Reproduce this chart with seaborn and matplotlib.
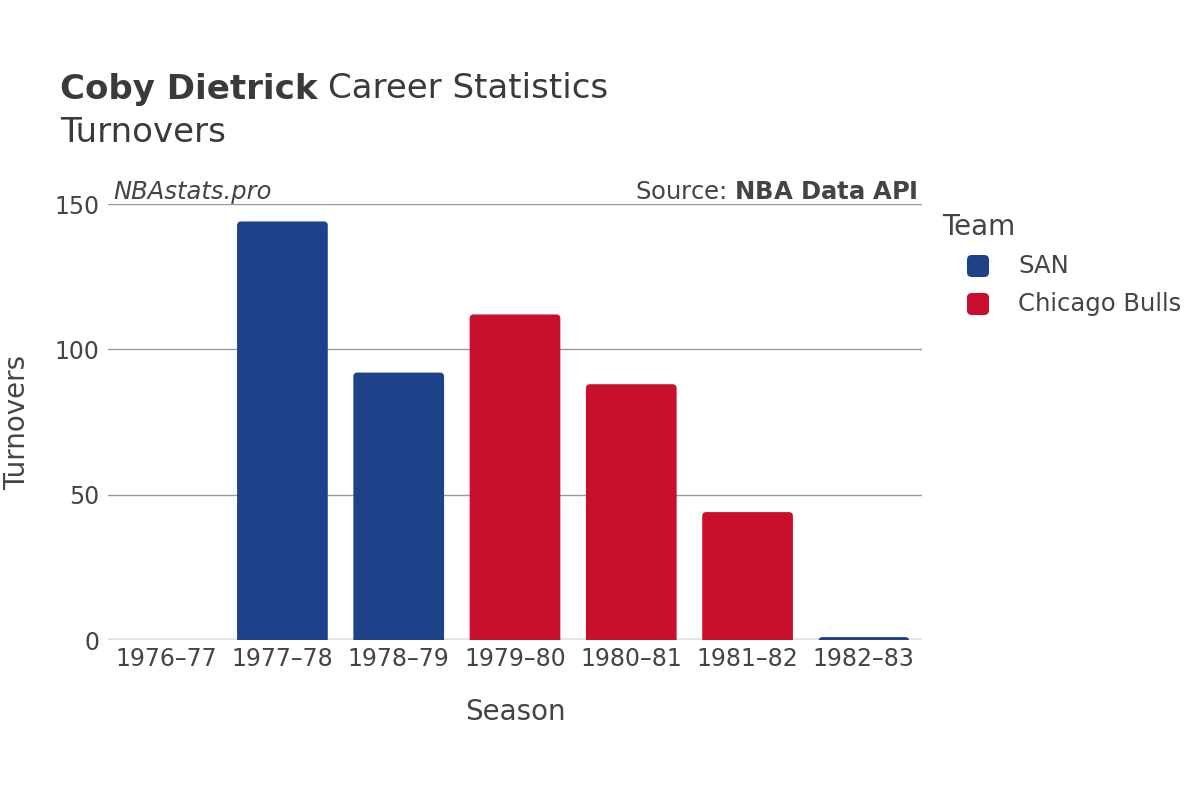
import matplotlib
matplotlib.use("Agg")
import matplotlib.pyplot as plt
import seaborn as sns
import pandas as pd
from matplotlib.patches import FancyBboxPatch

seasons = ["1976–77", "1977–78", "1978–79", "1979–80", "1980–81", "1981–82", "1982–83"]
teams = ["SAN", "SAN", "SAN", "Chicago Bulls", "Chicago Bulls", "Chicago Bulls", "SAN"]
turnovers = [0, 144, 92, 112, 88, 44, 1]
team_names = ["SAN", "Chicago Bulls"]
team_colors = {"SAN": "#1D428A", "Chicago Bulls": "#C8102E"}

df = pd.DataFrame({"Season": seasons, "Team": teams, "Turnovers": turnovers})

sns.set_theme(style="white")
plt.rcParams['font.family'] = ['DejaVu Sans']

TXT = "#3a3a3a"
fig = plt.figure(figsize=(12, 8), dpi=100)
ax = fig.add_axes([108/1200, 1-640/800, (922-108)/1200, (640-204)/800])

sns.barplot(data=df, x="Season", y="Turnovers", hue="Team", palette=team_colors,
            dodge=False, width=0.78, ax=ax, legend=False, order=seasons,
            hue_order=team_names, saturation=1)

ax.set_ylim(0, 150)
ax.set_xlim(-0.5, len(seasons) - 0.5)

# replace rectangles with rounded ones
px_x = (922 - 108) / len(seasons)
px_y = (640 - 204) / 150
aspect = px_x / px_y
for p in list(ax.patches):
    h = p.get_height()
    x, w = p.get_x(), p.get_width()
    fc = p.get_facecolor()
    p.remove()
    if h <= 0:
        continue
    fb = FancyBboxPatch((x, -3), w, h + 3,
                        boxstyle=f"round,pad=0,rounding_size={4/px_x}",
                        mutation_aspect=aspect, facecolor=fc, edgecolor="none",
                        clip_on=True, zorder=2)
    ax.add_patch(fb)

for v in [50, 100, 150]:
    ax.axhline(v, color="#9a9a9a", lw=1, zorder=1)
ax.axhline(0, color="#e4e4e8", lw=3.5, zorder=1.5)

for s in ax.spines.values():
    s.set_visible(False)

ax.set_yticks([0, 50, 100, 150])
ax.tick_params(axis="both", length=0, labelsize=17, labelcolor="#444444")
ax.tick_params(axis="x", pad=5)
ax.tick_params(axis="y", pad=6)
ax.set_xlabel("Season", fontsize=20, color="#444444")
ax.set_ylabel("Turnovers", fontsize=20, color="#444444")
ax.xaxis.set_label_coords(0.5, -(712 - 640) / 436)
ax.yaxis.set_label_coords(-(108 - 17) / 814, 0.5)
ax.xaxis.label.set_va("center")
ax.yaxis.label.set_va("center")

t1 = fig.text(60/1200, 1-89/800, "Coby Dietrick", fontsize=24.5, fontweight="bold",
              color=TXT, va="center", ha="left")
fig.canvas.draw()
bb = t1.get_window_extent()
fig.text((bb.x1 + 10) / 1200, 1-89/800, "Career Statistics", fontsize=24.5,
         color=TXT, va="center", ha="left")
fig.text(60/1200, 1-133/800, "Turnovers", fontsize=24.5,
         color=TXT, va="center", ha="left")

fig.text(113/1200, 1-192/800, "NBAstats.pro", fontsize=17.5, style="italic",
         color="#444444", va="center", ha="left")
fig.text(918/1200, 1-192/800, "Source: $\\bf{NBA\\ Data\\ API}$", fontsize=17.5,
         color="#444444", va="center", ha="right")

# legend
fig.text(942/1200, 1-227/800, "Team", fontsize=20, color="#444444",
         va="center", ha="left")
for i, t in enumerate(team_names):
    yc = 266 + i * 38
    fig.patches.append(FancyBboxPatch((967/1200, 1-(yc+11)/800), 22/1200, 22/800,
                                      boxstyle="round,pad=0,rounding_size=0.004",
                                      mutation_aspect=1.5,
                                      transform=fig.transFigure, figure=fig,
                                      facecolor=team_colors[t], edgecolor="none"))
    fig.text(1018/1200, 1-yc/800, t, fontsize=17.5, color="#444444",
             va="center", ha="left")

fig.savefig("out.png", dpi=100)
